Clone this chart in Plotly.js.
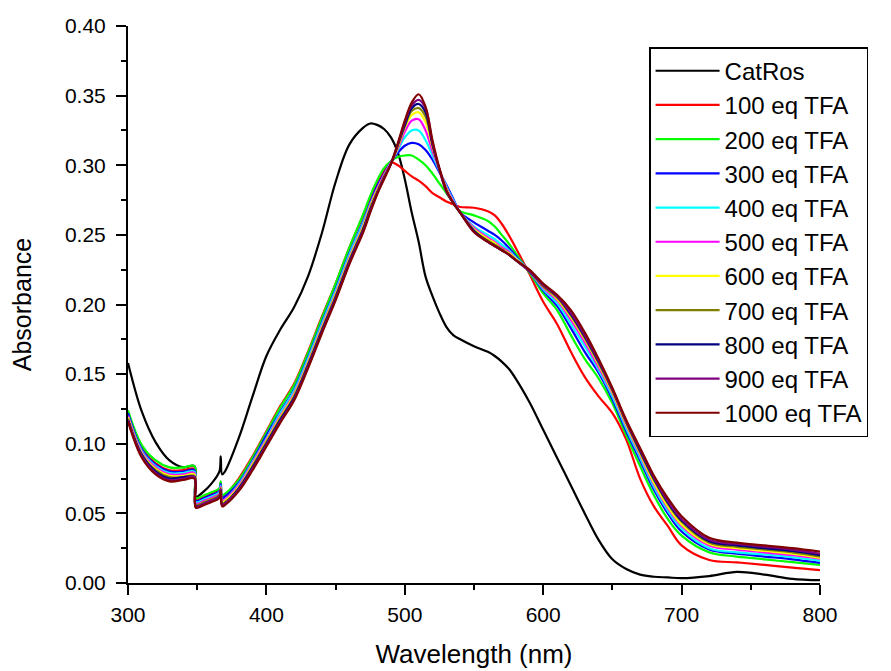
<!DOCTYPE html>
<html>
<head>
<meta charset="utf-8">
<script src="https://cdn.plot.ly/plotly-3.0.1.min.js"></script>
<style>html,body{margin:0;padding:0;background:#fff;}#chart{width:891px;height:671px;}</style>
</head>
<body>
<div id="chart"></div>
<script>
// Wavelength grid (nm)
const wavelength = [300,310,320,330,340,348,349,355,360,366,367,368,370,380,390,400,410,420,430,440,450,460,470,475,480,485,490,495,500,505,510,515,520,525,530,535,540,550,560,565,570,575,580,590,600,610,620,630,640,650,660,670,680,690,700,720,740,760,780,800];

const seriesNames = ["CatRos","100 eq TFA","200 eq TFA","300 eq TFA","400 eq TFA","500 eq TFA","600 eq TFA","700 eq TFA","800 eq TFA","900 eq TFA","1000 eq TFA"];
const seriesColors = ["#000000","#FF0000","#00FF00","#0000FF","#00FFFF","#FF00FF","#FFFF00","#808000","#000080","#800080","#800000"];

const catRos = [0.158,0.123,0.101,0.088,0.083,0.084,0.062,0.066,0.071,0.080,0.091,0.078,0.080,
  0.104,0.134,0.163,0.182,0.198,0.220,0.251,0.288,0.315,0.327,
  0.330,0.329,0.326,0.320,0.309,0.290,0.266,0.245,0.220,0.206,0.194,0.184,0.178,0.175,
  0.170,0.166,0.163,0.159,0.154,0.147,
  0.130,0.110,0.090,0.070,0.050,0.031,0.017,0.010,0.006,0.0045,0.004,0.0035,
  0.005,0.008,0.006,0.003,0.002];

const tfa100 = [0.121,0.097,0.086,0.081,0.081,0.082,0.060,0.062,0.064,0.067,0.072,0.062,0.063,
  0.075,0.091,0.109,0.127,0.143,0.166,0.191,0.215,0.241,0.264,
  0.276,0.287,0.296,0.302,0.300,0.296,0.292,0.289,0.285,0.280,0.277,0.274,0.272,0.270,
  0.2695,0.267,0.264,0.258,0.250,0.241,
  0.222,0.202,0.186,0.166,0.148,0.134,0.122,0.103,0.075,0.055,0.041,0.027,
  0.0165,0.0148,0.013,0.011,0.0093];

const tfa200 = [0.124,0.099,0.088,0.083,0.083,0.084,0.061,0.063,0.065,0.068,0.073,0.063,0.064,
  0.074,0.090,0.108,0.126,0.142,0.165,0.190,0.215,0.241,0.265,
  0.278,0.289,0.298,0.303,0.306,0.307,0.307,0.304,0.300,0.294,0.287,0.280,0.273,0.267,
  0.264,0.260,0.256,0.250,0.244,0.237,
  0.223,0.208,0.196,0.178,0.161,0.147,0.129,0.106,0.084,0.063,0.046,0.034,
  0.022,0.019,0.017,0.015,0.013];

const tfa300 = [0.122,0.096,0.085,0.080,0.080,0.081,0.059,0.061,0.063,0.066,0.071,0.061,0.062,
  0.072,0.088,0.106,0.123,0.139,0.162,0.187,0.211,0.237,0.260,
  0.273,0.285,0.294,0.302,0.309,0.314,0.316,0.315,0.311,0.304,0.295,0.286,0.276,0.266,
  0.259,0.253,0.250,0.246,0.241,0.235,
  0.224,0.210,0.199,0.183,0.166,0.151,0.132,0.109,0.088,0.067,0.050,0.037,
  0.024,0.021,0.019,0.017,0.0145];

const tfa400 = [0.120,0.095,0.084,0.079,0.079,0.080,0.058,0.060,0.062,0.065,0.070,0.059,0.060,
  0.071,0.087,0.104,0.122,0.138,0.161,0.186,0.210,0.236,0.259,
  0.272,0.283,0.293,0.302,0.311,0.320,0.325,0.325,0.318,0.307,0.296,0.285,0.275,0.266,
  0.256,0.250,0.247,0.243,0.239,0.234,
  0.224,0.211,0.201,0.186,0.170,0.153,0.134,0.111,0.090,0.069,0.052,0.039,
  0.025,0.022,0.0205,0.0185,0.016];

const tfa500 = [0.120,0.094,0.083,0.078,0.078,0.079,0.057,0.059,0.061,0.064,0.069,0.059,0.060,
  0.070,0.086,0.103,0.120,0.136,0.159,0.184,0.208,0.234,0.257,
  0.271,0.283,0.293,0.302,0.312,0.324,0.332,0.333,0.325,0.310,0.297,0.284,0.274,0.266,
  0.255,0.248,0.245,0.241,0.238,0.233,
  0.224,0.212,0.203,0.189,0.173,0.155,0.136,0.113,0.092,0.071,0.054,0.041,
  0.027,0.024,0.022,0.020,0.0175];

const tfa600 = [0.119,0.093,0.082,0.077,0.077,0.078,0.056,0.058,0.060,0.063,0.068,0.058,0.059,
  0.069,0.085,0.102,0.119,0.135,0.158,0.183,0.207,0.233,0.256,
  0.270,0.282,0.292,0.301,0.313,0.327,0.336,0.338,0.331,0.313,0.297,0.283,0.273,0.266,
  0.254,0.247,0.244,0.240,0.237,0.233,
  0.224,0.213,0.204,0.191,0.175,0.157,0.137,0.114,0.093,0.072,0.055,0.042,
  0.028,0.025,0.023,0.021,0.018];

const tfa700 = [0.118,0.092,0.081,0.076,0.076,0.077,0.056,0.058,0.060,0.063,0.068,0.057,0.058,
  0.068,0.084,0.101,0.118,0.134,0.157,0.182,0.206,0.232,0.255,
  0.269,0.281,0.292,0.301,0.314,0.328,0.339,0.341,0.335,0.314,0.297,0.282,0.273,0.266,
  0.253,0.246,0.243,0.240,0.236,0.232,
  0.224,0.213,0.205,0.192,0.176,0.158,0.138,0.115,0.094,0.074,0.057,0.044,
  0.029,0.026,0.024,0.022,0.019];

const tfa800 = [0.117,0.092,0.080,0.075,0.076,0.076,0.055,0.057,0.059,0.062,0.067,0.056,0.057,
  0.068,0.083,0.100,0.117,0.133,0.156,0.181,0.205,0.231,0.254,
  0.268,0.280,0.291,0.301,0.315,0.329,0.341,0.344,0.338,0.315,0.297,0.282,0.273,0.266,
  0.253,0.245,0.242,0.239,0.236,0.232,
  0.224,0.214,0.206,0.193,0.177,0.159,0.139,0.116,0.095,0.075,0.058,0.045,
  0.030,0.027,0.025,0.023,0.020];

const tfa900 = [0.117,0.091,0.079,0.074,0.075,0.076,0.055,0.057,0.059,0.062,0.067,0.056,0.057,
  0.067,0.082,0.099,0.116,0.132,0.155,0.180,0.204,0.230,0.253,
  0.267,0.280,0.291,0.301,0.315,0.331,0.343,0.347,0.341,0.316,0.297,0.281,0.273,0.266,
  0.252,0.245,0.242,0.239,0.236,0.232,
  0.224,0.214,0.206,0.194,0.178,0.160,0.139,0.116,0.096,0.076,0.059,0.046,
  0.031,0.028,0.026,0.024,0.021];

const tfa1000 = [0.116,0.090,0.078,0.073,0.074,0.075,0.054,0.056,0.058,0.061,0.066,0.055,0.056,
  0.066,0.081,0.098,0.115,0.131,0.154,0.179,0.203,0.229,0.252,
  0.266,0.279,0.290,0.301,0.316,0.332,0.345,0.351,0.342,0.318,0.298,0.282,0.273,0.266,
  0.252,0.245,0.242,0.239,0.236,0.232,
  0.225,0.215,0.207,0.196,0.180,0.161,0.140,0.117,0.097,0.077,0.061,0.048,
  0.0325,0.029,0.027,0.025,0.0225];

const xTickVals = [300,400,500,600,700,800];
const yTickVals = [0,0.05,0.10,0.15,0.20,0.25,0.30,0.35,0.40];
const yTickText = ["0.00","0.05","0.10","0.15","0.20","0.25","0.30","0.35","0.40"];

const allSeries = [catRos,tfa100,tfa200,tfa300,tfa400,tfa500,tfa600,tfa700,tfa800,tfa900,tfa1000];

const traces = allSeries.map((ys, i) => ({
  x: wavelength,
  y: ys,
  type: 'scatter',
  mode: 'lines',
  name: seriesNames[i],
  line: {color: seriesColors[i], width: 2.2, shape: 'spline', smoothing: 1.0}
}));

const fontFam = 'Arial, "Liberation Sans", sans-serif';

const layout = {
  width: 891,
  height: 671,
  margin: {l: 128, r: 71, t: 26, b: 88},
  paper_bgcolor: '#ffffff',
  plot_bgcolor: '#ffffff',
  font: {family: fontFam, color: '#000'},
  showlegend: true,
  legend: {
    x: 0.753, y: 0.962, xanchor: 'left', yanchor: 'top',
    bgcolor: '#ffffff',
    bordercolor: '#000',
    borderwidth: 1.5,
    font: {family: fontFam, size: 24, color: '#000'},
    itemwidth: 64,
    traceorder: 'normal'
  },
  xaxis: {
    range: [300, 800],
    tickmode: 'array',
    tickvals: xTickVals,
    ticktext: xTickVals.map(String),
    ticks: 'outside',
    ticklen: 10,
    tickwidth: 2,
    tickcolor: '#000',
    ticklabelstandoff: 2,
    minor: {dtick: 50, ticks: 'outside', ticklen: 5, tickwidth: 2, tickcolor: '#000'},
    showline: true,
    linecolor: '#000',
    linewidth: 2,
    showgrid: false,
    zeroline: false,
    tickfont: {family: fontFam, size: 21, color: '#000'},
    title: {text: 'Wavelength (nm)', font: {family: fontFam, size: 26, color: '#000'}, standoff: 20}
  },
  yaxis: {
    range: [0, 0.40],
    tickmode: 'array',
    tickvals: yTickVals,
    ticktext: yTickText,
    ticks: 'outside',
    ticklen: 10,
    tickwidth: 2,
    tickcolor: '#000',
    ticklabelstandoff: 6,
    minor: {dtick: 0.025, ticks: 'outside', ticklen: 5, tickwidth: 2, tickcolor: '#000'},
    showline: true,
    linecolor: '#000',
    linewidth: 2,
    showgrid: false,
    zeroline: false,
    tickfont: {family: fontFam, size: 21, color: '#000'},
    title: {text: 'Absorbance', font: {family: fontFam, size: 25, color: '#000'}, standoff: 26}
  }
};

Plotly.newPlot('chart', traces, layout, {displayModeBar: false, staticPlot: true});
</script>
</body>
</html>
